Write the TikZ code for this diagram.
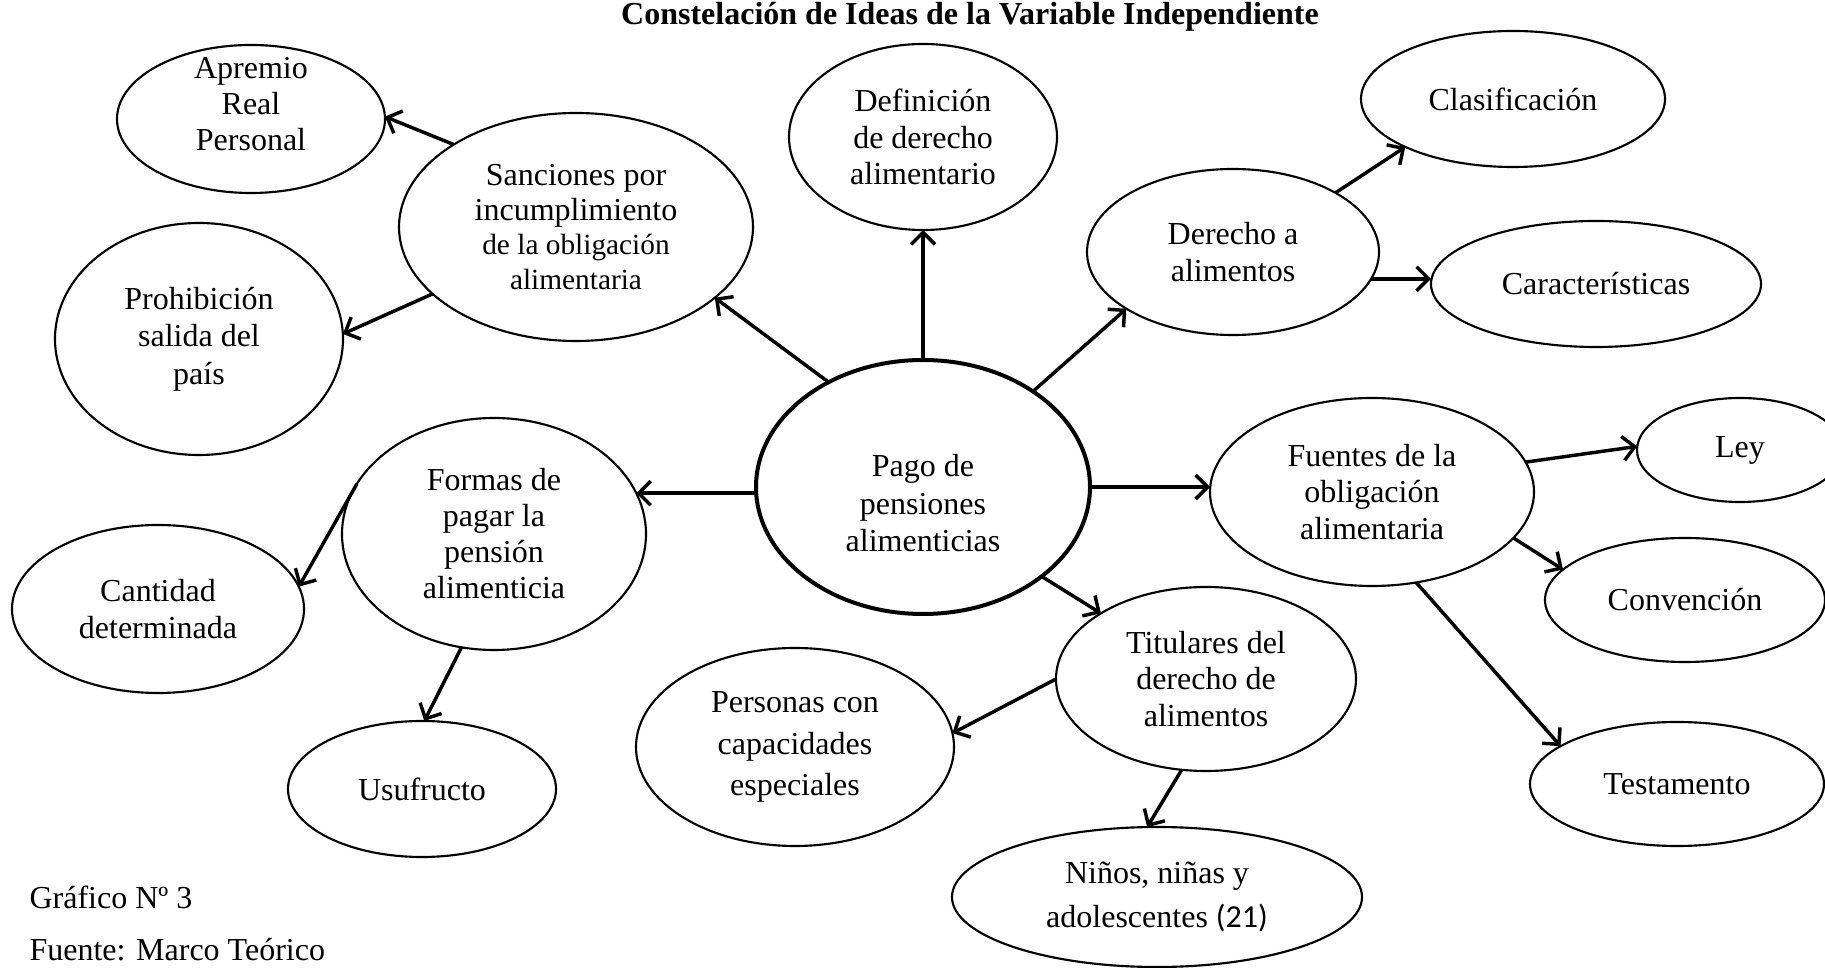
\documentclass[tikz,border=0pt]{standalone}
\usepackage{fontspec}
\setmainfont{Liberation Serif}
\newfontfamily\calibrifont{Carlito}
\usetikzlibrary{shapes.geometric,arrows.meta}

\begin{document}
\begin{tikzpicture}[
    x=0.375pt, y=-0.375pt,
    >={Straight Barb[length=4.5pt,width=9pt]},
    idea/.style={
        draw=black,
        line width=0.8pt,
        ellipse,
        inner sep=0pt,
        outer sep=0pt,
        align=center,
        font=\fontsize{12}{13.8}\selectfont
    },
    dims/.style 2 args={minimum width=#1*0.375pt, minimum height=#2*0.375pt},
    lines/.style={font=\fontsize{12}{#1}\selectfont},
    link/.style={->, line width=1.3pt},
    note/.style={anchor=base west, inner sep=0pt, font=\fontsize{12}{14}\selectfont}
]
\useasboundingbox (0,0) rectangle (1825,968);

% --- Title ---
\node[anchor=base, inner sep=0pt, font=\bfseries\fontsize{12}{14}\selectfont] (title) at (970,25)
    {Constelación de Ideas de la Variable Independiente};

% --- Central idea ---
\node[idea, dims={334}{254}, line width=1.5pt, lines=14pt, text height=50pt, text depth=1.7pt]
    (pago) at (923,487) {Pago de\\pensiones\\alimenticias};

% --- First ring ---
\node[idea, dims={354}{228}, lines=13pt] (sanc) at (576,227)
    {Sanciones por\\incumplimiento\\{\fontsize{11}{13}\selectfont de la obligación}\\{\fontsize{11}{13}\selectfont alimentaria}};
\node[idea, dims={268}{186}] (defin)   at (923,137)  {Definición\\de derecho\\alimentario};
\node[idea, dims={292}{166}] (derecho) at (1233,252) {Derecho a\\alimentos};
\node[idea, dims={304}{232}, lines=13.5pt] (formas) at (494,534) {Formas de\\pagar la\\pensión\\alimenticia};
\node[idea, dims={324}{188}] (fuentes) at (1372,492) {Fuentes de la\\obligación\\alimentaria};
\node[idea, dims={300}{184}] (titul)   at (1206,679) {Titulares del\\derecho de\\alimentos};

% --- Second ring ---
\node[idea, dims={268}{148}, lines=13.5pt, text height=30pt, text depth=6.3pt]
    (apremio) at (251,119) {Apremio\\Real\\Personal};
\node[idea, dims={288}{232}, lines=14pt] (prohib) at (199,339) {Prohibición\\salida del\\país};
\node[idea, dims={304}{136}] (clasif)   at (1513,99)  {Clasificación};
\node[idea, dims={330}{126}] (caract)   at (1596,284) {Características};
\node[idea, dims={292}{168}] (cantidad) at (158,609)  {Cantidad\\determinada};
\node[idea, dims={268}{136}] (usuf)     at (422,789)  {Usufructo};
\node[idea, dims={206}{104}] (ley)      at (1740,450) {Ley};
\node[idea, dims={280}{124}] (conv)     at (1685,600) {Convención};
\node[idea, dims={294}{124}] (testam)   at (1677,784) {Testamento};
\node[idea, dims={318}{198}, lines=15.7pt] (personas) at (795,747) {Personas con\\capacidades\\especiales};
\node[idea, dims={410}{140}, lines=16.5pt] (ninos) at (1157,897) {Niños, niñas y\\adolescentes {\calibrifont (21)}};

% --- Source notes ---
\node[note] (grafico) at (29,909) {Gráfico Nº 3};
\node[note] (fuente)  at (29,961) {Fuente: Marco Teórico};

% --- From the centre ---
\draw[link] (pago.north) -- (defin.south);
\draw[link] (pago.132) -- (sanc.333);
\draw[link] (pago.41) -- (derecho.208);
\draw[link] (pago.west |- formas.16) -- (formas.16);
\draw[link] (pago.east) -- (pago.east -| fuentes.west);
\draw[link] (pago.323) -- (titul.148);

% --- Outer links ---
\draw[link] (sanc.146) -- (apremio.1);
\draw[link] (sanc.205) -- (prohib.2);
\draw[link] (derecho.30) -- (clasif.204);
\draw[link] (derecho.349) -- (derecho.349 -| caract.west);
\draw[link] (formas.160) -- (cantidad.9);
\draw[link] (formas.254) -- (usuf.88);
\draw[link] (fuentes.11) -- (ley.178);
\draw[link] (fuentes.342) -- (conv.166);
\draw[link] (fuentes.296) -- (testam.162);
\draw[link] (titul.west) -- (personas.5);
\draw[link] (titul.255) -- (ninos.98);

\end{tikzpicture}
\end{document}
